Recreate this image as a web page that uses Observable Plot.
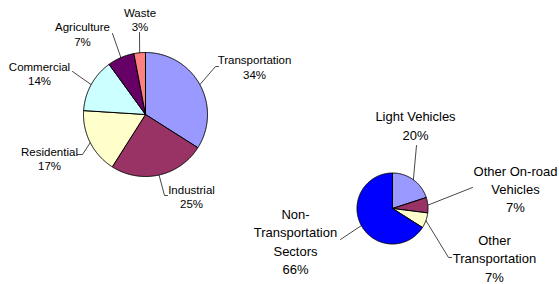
<!DOCTYPE html>
<html><head><meta charset="utf-8">
<script src="https://cdn.jsdelivr.net/npm/d3@7"></script>
<script src="https://cdn.jsdelivr.net/npm/@observablehq/plot@0.6"></script>
<style>body{margin:0;background:#fff}#chart svg{display:block}</style>
</head><body><div id="chart"></div>
<script>
// ---- data ----
const sectors = ["Transportation", "Industrial", "Residential", "Commercial", "Agriculture", "Waste"];
const sectorShares = [34, 25, 17, 14, 7, 3];
const sectorColors = ["#9999FF", "#993366", "#FFFFCC", "#CCFFFF", "#660066", "#FF8080"];

const transportParts = ["Light Vehicles", "Other On-road Vehicles", "Other Transportation", "Non-Transportation Sectors"];
const transportLabelText = ["Light Vehicles", "Other On-road\nVehicles", "Other\nTransportation", "Non-\nTransportation\nSectors"];
const transportShares = [20, 7, 7, 66];
const transportColors = ["#9999FF", "#993366", "#FFFFCC", "#0000FF"];

// ---- layout (positions only) ----
const W = 559, H = 284;
const pies = [
  {
    names: sectors, text: sectors, shares: sectorShares, colors: sectorColors,
    cx: 145, cy: 114, r: 62, font: 11.5, lh: 1.25,
    labelPos: [[254, 66.5], [191, 196], [49, 158], [39, 73], [82, 33.5], [139.5, 19]],
    elbows: [[[215, 66], [218, 66]], [[164, 195], [167, 195]], [[82, 154], [77, 154]], [[72, 71]], [[112, 33]], [[139, 32]]]
  },
  {
    names: transportParts, text: transportLabelText, shares: transportShares, colors: transportColors,
    cx: 392, cy: 208, r: 35.5, font: 13, lh: 1.41,
    labelPos: [[415, 124], [515, 187.5], [494, 257], [295, 240]],
    elbows: [[[416, 145]], [[472, 187]], [[448, 257], [451, 257]], [[340, 239]]]
  }
];

const slicePts = [], leaderPts = [], labelRows = [];
pies.forEach((p, pi) => {
  const arcs = d3.pie().sort(null).value(d => d)(p.shares);
  arcs.forEach((a, i) => {
    const key = `${pi}-${i}`;
    const pt = ang => [p.cx + p.r * Math.sin(ang), p.cy - p.r * Math.cos(ang)];
    const n = Math.max(2, Math.ceil((a.endAngle - a.startAngle) / 0.01));
    slicePts.push({key, x: p.cx, y: p.cy, color: p.colors[i]});
    for (let k = 0; k <= n; k++) {
      const [x, y] = pt(a.startAngle + (a.endAngle - a.startAngle) * k / n);
      slicePts.push({key, x, y, color: p.colors[i]});
    }
    slicePts.push({key, x: p.cx, y: p.cy, color: p.colors[i]});
    const [sx, sy] = pt((a.startAngle + a.endAngle) / 2);
    leaderPts.push({key, x: sx, y: sy});
    p.elbows[i].forEach(([x, y]) => leaderPts.push({key, x, y}));
    labelRows.push({
      pie: pi, x: p.labelPos[i][0], y: p.labelPos[i][1],
      text: `${p.text[i]}\n${p.shares[i]}%`
    });
  });
});

const chart = Plot.plot({
  width: W, height: H,
  marginTop: 0, marginRight: 0, marginBottom: 0, marginLeft: 0,
  x: {domain: [0, W], range: [0, W], axis: null},
  y: {domain: [0, H], range: [0, H], axis: null},
  color: {type: "identity"},
  style: {background: "#fff", fontFamily: "'Liberation Sans', Arial, sans-serif"},
  marks: [
    Plot.line(leaderPts, {x: "x", y: "y", z: "key", stroke: "#333", strokeWidth: 0.9, curve: "linear"}),
    Plot.line(slicePts, {x: "x", y: "y", z: "key", fill: "color", stroke: "#000", strokeWidth: 1, strokeLinejoin: "round", curve: "linear"}),
    Plot.text(labelRows.filter(d => d.pie === 0), {x: "x", y: "y", text: "text", fontSize: pies[0].font, lineHeight: pies[0].lh, fill: "#000"}),
    Plot.text(labelRows.filter(d => d.pie === 1), {x: "x", y: "y", text: "text", fontSize: pies[1].font, lineHeight: pies[1].lh, fill: "#000"})
  ]
});
document.getElementById("chart").appendChild(chart);
</script>
</body></html>
